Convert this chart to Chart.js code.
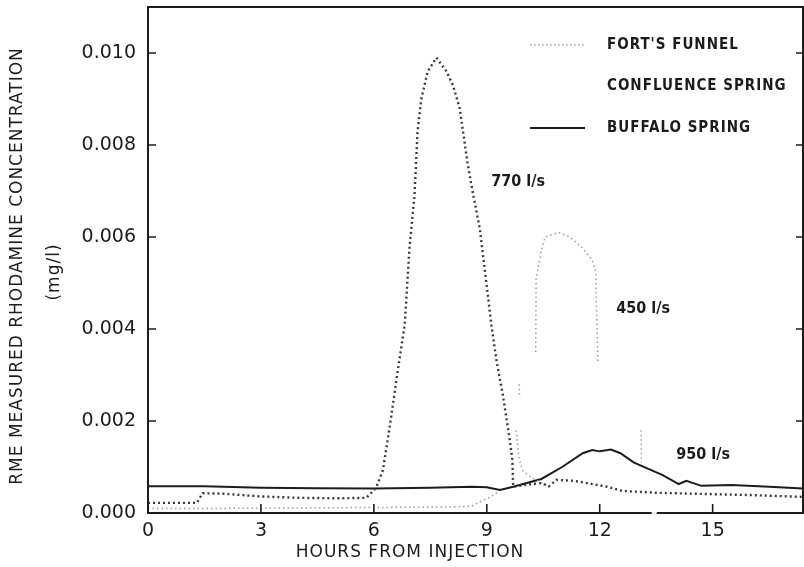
<!DOCTYPE html>
<html>
<head>
<meta charset="utf-8">
<script src="https://cdn.jsdelivr.net/npm/chart.js@4.4.1/dist/chart.umd.min.js"></script>
<style>
  html, body { margin: 0; padding: 0; background: #fff; }
  #chart { display: block; }
</style>
</head>
<body>
<canvas id="chart" width="804" height="567"></canvas>
<script>
// values (hours from injection, mg/l)
const fortsHours = [0, 1.3, 1.45, 2, 3, 4, 5, 5.8, 6.0, 6.07, 6.24, 6.42, 6.6, 6.82, 6.95, 7.08, 7.16, 7.26, 7.43, 7.66,
  7.93, 8.1, 8.28, 8.49, 8.62, 8.81, 8.99, 9.12, 9.26, 9.42, 9.6, 9.68, 9.7, 10.2, 10.45, 10.65, 10.85, 11.3, 11.6,
  12.2, 12.6, 13.5, 15, 16, 17.4];
const fortsValues = [0.00022, 0.00022, 0.00043, 0.00042, 0.00036, 0.00033, 0.00032, 0.00033, 0.0005, 0.00057, 0.00093,
  0.00187, 0.0029, 0.0041, 0.0058, 0.0069, 0.0083, 0.009, 0.0096, 0.0099, 0.0096, 0.0093, 0.0088, 0.0076, 0.0070,
  0.0062, 0.0050, 0.0041, 0.0033, 0.0026, 0.00165, 0.00115, 0.00057, 0.00063, 0.00065, 0.00058, 0.00072, 0.0007,
  0.00066, 0.00057, 0.00048, 0.00044, 0.00041, 0.00039, 0.00035];

const confluenceHours = [0, 2, 4, 6, 8, 8.6, 8.8, 9.1, 9.3, 9.35, 9.86, 9.87, 9.88, 9.78, 9.85, 9.95, 10.2, 10.6, 10.65,
  10.3, 10.31, 10.45, 10.55, 10.9, 11.2, 11.5, 11.8, 11.9, 11.91, 11.95, 12.0, 13.1, 13.11];
const confluenceValues = [0.0001, 0.0001, 0.00011, 0.00012, 0.00013, 0.00015, 0.00024, 0.00035, 0.00046, null, 0.0028,
  0.0025, null, 0.0018, 0.0012, 0.00093, 0.00076, 0.0006, null, 0.0035, 0.0051, 0.0057, 0.006, 0.0061, 0.006, 0.0058,
  0.0055, 0.0052, 0.0046, 0.0033, null, 0.0018, 0.0011];

const buffaloHours = [0, 1.5, 3, 4.5, 6, 7.5, 8.6, 9.0, 9.35, 9.7, 10.45, 11.0, 11.55, 11.8, 12.0, 12.3, 12.55, 12.9,
  13.26, 13.66, 14.1, 14.3, 14.7, 15.5, 16.5, 17.4];
const buffaloValues = [0.00058, 0.00058, 0.00055, 0.00054, 0.00053, 0.00055, 0.00057, 0.00056, 0.0005, 0.00057, 0.00074,
  0.001, 0.0013, 0.00137, 0.00134, 0.00138, 0.0013, 0.0011, 0.00097, 0.00083, 0.00063, 0.0007, 0.00059, 0.00061,
  0.00057, 0.00053];

const seriesNames = ["FORT'S FUNNEL", 'CONFLUENCE SPRING', 'BUFFALO SPRING'];
const xTicks = [0, 3, 6, 9, 12, 15];
const yTicks = [0, 0.002, 0.004, 0.006, 0.008, 0.010];
const flowLabels = ['770 l/s', '450 l/s', '950 l/s'];
const flowLabelHours = [9.12, 12.44, 14.03];
const flowLabelValues = [0.0072, 0.00443, 0.00126];

const toPoints = (hours, values) => hours.map((h, i) => ({ x: h, y: values[i] }));
const ink = '#1c1c1c';
const cond = '"DejaVu Sans Condensed", "DejaVu Sans", sans-serif';

const frame = {
  id: 'frame',
  afterDraw(chart) {
    const { ctx, chartArea: a, scales: { x, y } } = chart;
    ctx.save();
    ctx.strokeStyle = ink;
    ctx.lineWidth = 2;
    ctx.strokeRect(a.left, a.top, a.right - a.left, a.bottom - a.top);

    // inward ticks
    ctx.lineWidth = 1.6;
    ctx.beginPath();
    xTicks.slice(1).forEach((t) => {
      const px = x.getPixelForValue(t);
      ctx.moveTo(px, a.bottom);
      ctx.lineTo(px, a.bottom - 9);
    });
    yTicks.slice(1).forEach((t) => {
      const py = y.getPixelForValue(t);
      ctx.moveTo(a.left, py);
      ctx.lineTo(a.left + 8, py);
      ctx.moveTo(a.right, py);
      ctx.lineTo(a.right - 7, py);
    });
    ctx.stroke();

    // small break in the bottom line of the scan
    ctx.fillStyle = '#fff';
    ctx.fillRect(x.getPixelForValue(13.38), a.bottom - 2, 5, 4);

    // axis titles
    ctx.fillStyle = ink;
    ctx.letterSpacing = '1px';
    ctx.font = '17px "DejaVu Sans"';
    ctx.textAlign = 'center';
    ctx.textBaseline = 'middle';
    ctx.fillText('HOURS FROM INJECTION', a.left + 262, 553);
    ctx.save();
    ctx.translate(18, a.top + 259);
    ctx.rotate(-Math.PI / 2);
    ctx.fillText('RME MEASURED RHODAMINE CONCENTRATION', 0, 0);
    ctx.restore();
    ctx.save();
    ctx.translate(55, a.top + 265);
    ctx.rotate(-Math.PI / 2);
    ctx.fillText('(mg/l)', 0, 0);
    ctx.restore();

    // flow labels
    ctx.letterSpacing = '0px';
    ctx.font = 'bold 16px ' + cond;
    ctx.textAlign = 'left';
    flowLabels.forEach((txt, i) => {
      ctx.fillText(txt, x.getPixelForValue(flowLabelHours[i]), y.getPixelForValue(flowLabelValues[i]));
    });

    // legend
    const sampleColors = ['#9a9a9a', 'rgba(0,0,0,0)', ink];
    const sampleDash = [[1.5, 2.5], [1.5, 2.5], []];
    const sampleWidth = [1.3, 1.3, 1.8];
    ctx.font = 'bold 15px ' + cond;
    ctx.letterSpacing = '1px';
    seriesNames.forEach((name, i) => {
      const rowY = a.top + 38 + i * 41.5;
      ctx.beginPath();
      ctx.strokeStyle = sampleColors[i];
      ctx.lineWidth = sampleWidth[i];
      ctx.setLineDash(sampleDash[i]);
      ctx.moveTo(a.right - 273, rowY);
      ctx.lineTo(a.right - 218, rowY);
      ctx.stroke();
      ctx.setLineDash([]);
      ctx.fillText(name, a.right - 196, rowY);
    });
    ctx.restore();
  }
};

new Chart(document.getElementById('chart').getContext('2d'), {
  type: 'line',
  data: {
    datasets: [
      {
        label: seriesNames[0],
        data: toPoints(fortsHours, fortsValues),
        borderColor: '#3a3a3a',
        borderWidth: 2.4,
        borderDash: [2, 3],
      },
      {
        label: seriesNames[1],
        data: toPoints(confluenceHours, confluenceValues),
        borderColor: '#9c9c9c',
        borderWidth: 1.5,
        borderDash: [1.5, 3],
      },
      {
        label: seriesNames[2],
        data: toPoints(buffaloHours, buffaloValues),
        borderColor: ink,
        borderWidth: 2,
      },
    ],
  },
  options: {
    responsive: false,
    animation: false,
    devicePixelRatio: 1,
    spanGaps: false,
    elements: { point: { radius: 0 }, line: { tension: 0 } },
    layout: { padding: { top: 7, right: 1, left: 0, bottom: 0 } },
    plugins: { legend: { display: false }, tooltip: { enabled: false } },
    scales: {
      x: {
        type: 'linear',
        min: 0,
        max: 17.4,
        afterFit: (scale) => { scale.height = 54; },
        grid: { display: false, drawTicks: false },
        border: { display: false },
        ticks: {
          stepSize: 3,
          includeBounds: false,
          padding: 7,
          color: ink,
          font: { family: 'DejaVu Sans', size: 19 },
        },
      },
      y: {
        min: 0,
        max: 0.011,
        afterFit: (scale) => {
          scale.width = 148;
          scale.paddingTop = 0;
          scale.paddingBottom = 0;
        },
        grid: { display: false, drawTicks: false },
        border: { display: false },
        ticks: {
          stepSize: 0.002,
          includeBounds: false,
          padding: 12,
          color: ink,
          font: { family: 'DejaVu Sans', size: 19 },
          callback: (v) => v.toFixed(3),
        },
      },
    },
  },
  plugins: [frame],
});
</script>
</body>
</html>
